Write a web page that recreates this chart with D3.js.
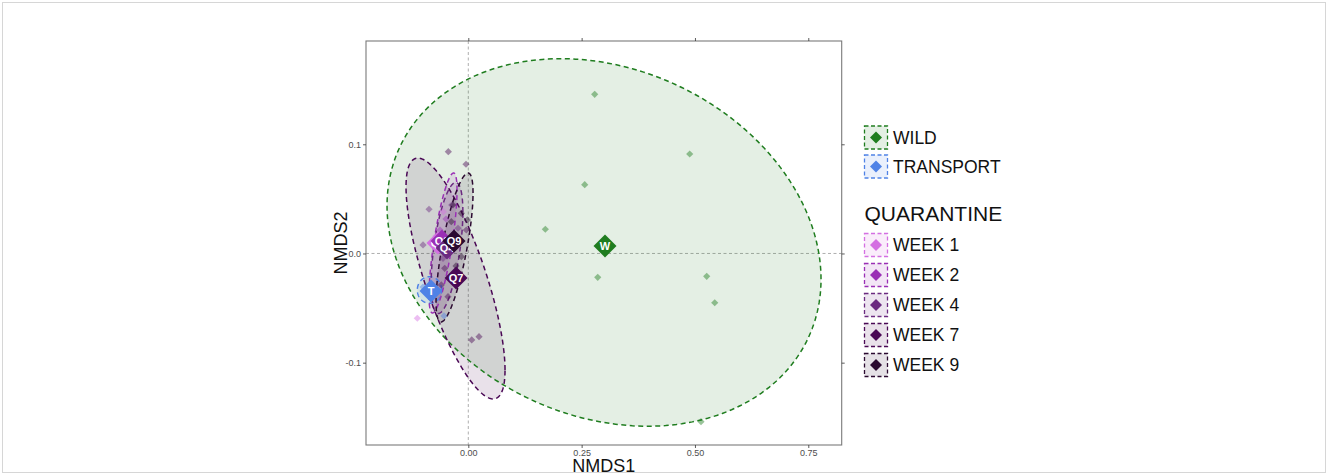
<!DOCTYPE html>
<html><head><meta charset="utf-8">
<script src="https://cdn.jsdelivr.net/npm/d3@7"></script>
<style>
html,body{margin:0;padding:0;background:#fff;}
svg{display:block;font-family:"Liberation Sans",Arial,sans-serif;}
</style></head>
<body>
<svg id="chart" width="1328" height="475"></svg>
<script>
// ---- groups ----
const groups = ["W","T","Q1","Q2","Q4","Q7","Q9"];
const groupNames = ["WILD","TRANSPORT","WEEK 1","WEEK 2","WEEK 4","WEEK 7","WEEK 9"];
const groupColors = ["#1f7d1f","#4f82e6","#d46fe2","#9a2fb5","#6b2a80","#4a0855","#2b0a30"];

// ---- sample points (NMDS1, NMDS2) ----
const ptsW  = [[0.2788,0.1458],[0.4884,0.0911],[0.2568,0.0630],[0.1699,0.0222],[0.2855,-0.0218],[0.5259,-0.0209],[0.5436,-0.0451],[0.5133,-0.1540]];
const ptsT  = [[-0.0536,-0.0572],[-0.0999,-0.0307]];
const ptsQ1 = [[-0.1125,-0.0593],[-0.0552,0.0383],[-0.0713,0.0160]];
const ptsQ2 = [[-0.0624,0.0215],[-0.0492,0.0316],[-0.0690,0.0032]];
const ptsQ4 = [[-0.0867,0.0405],[-0.0999,0.0078],[-0.0366,0.0444],[-0.0227,0.0231],[-0.0558,-0.0044]];
const ptsQ7 = [[-0.0441,0.0932],[-0.0051,0.0817],[0.0075,-0.0792],[0.0236,-0.0762],[-0.0596,-0.0288],[-0.0448,-0.0396],[-0.0521,-0.0136],[-0.0044,0.0215]];
const ptsQ9 = [[-0.0154,0.0368],[-0.0022,0.0307],[-0.0338,0.0444],[-0.0154,-0.0029],[-0.0375,0.0291],[-0.0271,-0.0114]];
const groupPoints = [ptsW, ptsT, ptsQ1, ptsQ2, ptsQ4, ptsQ7, ptsQ9];

// ---- centroids ----
const centroidLabels = ["W","T","Q1","Q2","Q4","Q7","Q9"];
const centroidX = [0.3016,-0.0823,-0.0668,-0.0580,-0.0470,-0.0270,-0.0315];
const centroidY = [0.0069,-0.0343,0.0096,0.0114,0.0050,-0.0224,0.0114];

// ---- ellipses: centre, half-width (x), half-height (y), correlation ----
const ellGroups = ["W","T","Q2","Q4","Q7","Q9"];
const ellCX = [0.2994,-0.0856,-0.0558,-0.0470,-0.0282,-0.0304];
const ellCY = [0.0101,-0.0334,0.0096,0.0050,-0.0229,0.0055];
const ellSX = [0.4787,0.0269,0.0309,0.0350,0.1092,0.0408];
const ellSY = [0.1683,0.0122,0.0641,0.0600,0.1103,0.0682];
const ellR  = [-0.20,0.0,0.75,0.55,-0.76,0.73];

// ---- axes ----
const xTicks = [0, 0.25, 0.5, 0.75];
const yTicks = [-0.1, 0, 0.1];
const xDomain = [-0.2257, 0.8237];
const yDomain = [-0.1754, 0.1946];

const svg = d3.select("#chart");
const P = {l:366, r:841.7, t:41, b:445};
const x = d3.scaleLinear().domain(xDomain).range([P.l, P.r]);
const y = d3.scaleLinear().domain(yDomain).range([P.b, P.t]);
const colorOf = d3.scaleOrdinal().domain(groups).range(groupColors);

// outer frame
svg.append("rect").attr("x",2.5).attr("y",2.5).attr("width",1323).attr("height",470)
  .attr("fill","none").attr("stroke","#d6d6d6").attr("stroke-width",1);

svg.append("clipPath").attr("id","pclip").append("rect")
  .attr("x",P.l).attr("y",P.t).attr("width",P.r-P.l).attr("height",P.b-P.t);
const plot = svg.append("g").attr("clip-path","url(#pclip)");

// zero lines
plot.append("line").attr("x1",x(0)).attr("x2",x(0)).attr("y1",P.t).attr("y2",P.b)
  .attr("stroke","#9a9a9a").attr("stroke-width",0.8).attr("stroke-dasharray","3,2.5");
plot.append("line").attr("x1",P.l).attr("x2",P.r).attr("y1",y(0)).attr("y2",y(0))
  .attr("stroke","#9a9a9a").attr("stroke-width",0.8).attr("stroke-dasharray","3,2.5");

// ellipses
function ellipsePts(i){
  const phi = Math.acos(ellR[i]);
  const out = [];
  for(let k=0;k<=240;k++){
    const t = k/240*2*Math.PI;
    out.push([ellCX[i] + ellSX[i]*Math.cos(t), ellCY[i] + ellSY[i]*Math.cos(t - phi)]);
  }
  return out;
}
const line = d3.line().x(d=>x(d[0])).y(d=>y(d[1])).curve(d3.curveLinearClosed);
ellGroups.forEach((g,i)=>{
  plot.append("path").attr("d", line(ellipsePts(i)))
    .attr("fill", colorOf(g)).attr("fill-opacity",0.12).attr("stroke","none");
});
ellGroups.forEach((g,i)=>{
  plot.append("path").attr("d", line(ellipsePts(i)))
    .attr("fill","none").attr("stroke", colorOf(g)).attr("stroke-width",1.5)
    .attr("stroke-dasharray","5,3.5");
});

function diamond(cx, cy, r){
  return `M${cx},${cy-r}L${cx+r},${cy}L${cx},${cy+r}L${cx-r},${cy}Z`;
}

// sample points
groups.forEach((g,i)=>{
  plot.selectAll(null).data(groupPoints[i]).enter().append("path")
    .attr("d", d=>diamond(x(d[0]), y(d[1]), 3.6))
    .attr("fill", colorOf(g)).attr("fill-opacity",0.45);
});

// centroids
const cent = centroidLabels.map((l,i)=>({l, g:groups[i], cx:centroidX[i], cy:centroidY[i]}));
const cg = plot.selectAll(".cent").data(cent).enter().append("g").attr("class","cent");
cg.append("path").attr("d", d=>diamond(x(d.cx), y(d.cy), 11.5)).attr("fill", d=>colorOf(d.g));
cg.append("text").attr("x", d=>x(d.cx)).attr("y", d=>y(d.cy)+4)
  .attr("text-anchor","middle").attr("fill","#fff").attr("font-weight","bold")
  .attr("font-size",11).text(d=>d.l);

// panel border
svg.append("rect").attr("x",P.l).attr("y",P.t).attr("width",P.r-P.l).attr("height",P.b-P.t)
  .attr("fill","none").attr("stroke","#7a7a7a").attr("stroke-width",1.1);

// axes
function styleAxis(sel, labels){
  sel.select(".domain").remove();
  sel.selectAll(".tick line").attr("stroke","#333").attr("stroke-width",0.8);
  sel.selectAll(".tick text").attr("fill","#4d4d4d").attr("font-size",9)
    .attr("font-family","Liberation Sans, Arial, sans-serif");
  if(!labels) sel.selectAll(".tick text").remove();
}
svg.append("g").attr("transform",`translate(0,${P.b})`)
  .call(d3.axisBottom(x).tickValues(xTicks).tickSize(3).tickPadding(2).tickFormat(d=>d.toFixed(2)))
  .call(s=>styleAxis(s,true));
svg.append("g").attr("transform",`translate(0,${P.t})`)
  .call(d3.axisTop(x).tickValues(xTicks).tickSize(3))
  .call(s=>styleAxis(s,false));
svg.append("g").attr("transform",`translate(${P.l},0)`)
  .call(d3.axisLeft(y).tickValues(yTicks).tickSize(3).tickPadding(2).tickFormat(d=>d.toFixed(1)))
  .call(s=>styleAxis(s,true));
svg.append("g").attr("transform",`translate(${P.r},0)`)
  .call(d3.axisRight(y).tickValues(yTicks).tickSize(3))
  .call(s=>styleAxis(s,false));

// axis titles
svg.append("text").attr("x",(P.l+P.r)/2).attr("y",472).attr("text-anchor","middle")
  .attr("font-size",18).attr("fill","#111").text("NMDS1");
svg.append("text").attr("transform",`translate(347,${(P.t+P.b)/2}) rotate(-90)`)
  .attr("text-anchor","middle").attr("font-size",18).attr("fill","#111").text("NMDS2");

// legend
const legX = 864.5;
const legCentersY = [137.5, 166.5, 245, 275, 305, 335, 365];
const leg = svg.append("g");
groups.forEach((g,i)=>{
  const cy = legCentersY[i];
  leg.append("rect").attr("x",legX).attr("y",cy-11.5).attr("width",23).attr("height",23)
    .attr("fill",colorOf(g)).attr("fill-opacity",0.12)
    .attr("stroke",colorOf(g)).attr("stroke-width",1.3).attr("stroke-dasharray","4,2.5");
  leg.append("path").attr("d", diamond(legX+11.5, cy, 6)).attr("fill",colorOf(g));
  leg.append("text").attr("x",legX+28.5).attr("y",cy+6.3).attr("font-size",17.5)
    .attr("fill","#111").text(groupNames[i]);
});
leg.append("text").attr("x",legX).attr("y",220.5).attr("font-size",21)
  .attr("fill","#111").text("QUARANTINE");
</script>
</body></html>
